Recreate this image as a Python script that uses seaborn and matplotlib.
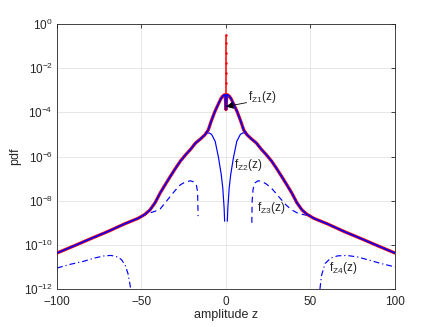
import numpy as np
import matplotlib
matplotlib.use("Agg")
import matplotlib.pyplot as plt
from matplotlib.ticker import FixedLocator, NullLocator, LogFormatterSciNotation
import seaborn as sns

# ---------------- data (log10 of pdf) ----------------
z_total = [-100, -90, -80, -70, -60, -52, -48, -45, -42, -39, -36, -33, -30, -27, -24,
           -21, -18, -15, -12.5, -10.5, -8.5, -6.5, -4.5, -3, -2, -1, -0.5, 0,
           0.5, 1, 2, 3, 4.5, 6.5, 8.5, 10.5, 12.5, 15, 18, 21, 24, 27, 30, 33, 36,
           39, 42, 45, 48, 52, 60, 70, 80, 90, 100]
log_total = [-10.37, -10.05, -9.72, -9.40, -9.05, -8.80, -8.62, -8.42, -8.10, -7.66, -7.28,
             -6.91, -6.55, -6.21, -5.93, -5.68, -5.39, -5.20, -5.02, -4.80, -4.35, -3.95,
             -3.62, -3.38, -3.27, -3.21, -3.21, -3.88,
             -3.21, -3.21, -3.27, -3.38, -3.62, -3.95, -4.35, -4.80, -5.02, -5.20, -5.39,
             -5.68, -5.93, -6.21, -6.55, -6.91, -7.28, -7.66, -8.10, -8.42, -8.62, -8.80,
             -9.05, -9.40, -9.72, -10.05, -10.37]

z_spike = [0, 0, 0, 0, 0, 0, 0]
log_spike = [-3.20, -2.68, -2.23, -1.78, -1.33, -0.87, -0.50]

z_z2_left = [-16, -13.5, -11.5, -10, -8.5, -6.4, -4.4, -2.8, -1.9, -1.1, -0.8]
log_z2_left = [-5.25, -5.08, -4.95, -4.93, -5.00, -5.31, -6.06, -6.82, -7.42, -8.33, -8.93]
z_z2_right = [0.8, 1.1, 1.9, 2.8, 4.4, 6.4, 8.5, 10, 11.5, 13.5, 16]
log_z2_right = [-8.93, -8.33, -7.42, -6.82, -6.06, -5.31, -5.00, -4.93, -4.95, -5.08, -5.25]

z_z3_left = [-50, -46, -42, -39, -36, -33, -30, -27, -24, -21, -19, -17.5, -16.8, -16.5]
log_z3_left = [-8.72, -8.58, -8.48, -8.38, -8.10, -7.81, -7.53, -7.28, -7.15, -7.10, -7.15,
               -7.30, -7.60, -8.70]
z_z3_right = [15.3, 15.5, 16, 17, 19, 21, 24, 27.7, 31, 35.6, 39, 42.5, 47, 50]
log_z3_right = [-9.00, -8.00, -7.50, -7.20, -7.10, -7.12, -7.25, -7.50, -7.80, -8.20, -8.42,
                -8.57, -8.65, -8.72]

z_z4_left = [-100, -92, -84.4, -78, -72, -68, -64, -61.7, -59.5, -58, -57, -56.4]
log_z4_left = [-11.05, -10.88, -10.75, -10.60, -10.50, -10.48, -10.55, -10.68, -10.95,
               -11.30, -11.70, -12.00]
z_z4_right = [55.6, 56.5, 58.6, 62, 66, 71.4, 78, 85, 92, 100]
log_z4_right = [-12.00, -11.40, -10.85, -10.60, -10.50, -10.48, -10.55, -10.70, -10.85, -11.00]

x_ticks = [-100, -50, 0, 50, 100]
y_tick_exps = [0, -2, -4, -6, -8, -10, -12]

# label positions (z, log10 pdf)
labels = [("f$_{\\mathregular{Z1}}$(z)", 13.0, -3.44),
          ("f$_{\\mathregular{Z2}}$(z)", 4.6, -6.53),
          ("f$_{\\mathregular{Z3}}$(z)", 18.2, -8.49),
          ("f$_{\\mathregular{Z4}}$(z)", 61.0, -11.18)]
arrow_tail = (12.2, -3.56)
arrow_head = (0.0, -3.74)

# ---------------- style ----------------
sns.set_theme(style="white")
plt.rcParams["font.family"] = ["Liberation Sans", "DejaVu Sans"]
plt.rcParams["mathtext.fontset"] = "custom"
plt.rcParams["mathtext.rm"] = "Liberation Sans"
plt.rcParams["mathtext.default"] = "regular"

fig = plt.figure(figsize=(4.36, 3.27), dpi=100)
ax = fig.add_axes([0.1307, 0.1162, 0.7752, 0.8104])

def p(v):
    return 10.0 ** np.asarray(v, dtype=float)

common = dict(ax=ax, estimator=None, sort=False, legend=False)

# total (red beneath blue)
sns.lineplot(x=z_total, y=p(log_total), color="#ff0000", lw=2.3, zorder=3, **common)
sns.lineplot(x=z_spike, y=p(log_spike), color="#ff0000", lw=1.1, marker=".",
             markersize=3.5, markeredgewidth=0, zorder=3, **common)
sns.lineplot(x=z_total, y=p(log_total), color="#0000ff", lw=1.2, zorder=4, **common)

# components
for zz, ll in [(z_z2_left, log_z2_left), (z_z2_right, log_z2_right)]:
    sns.lineplot(x=zz, y=p(ll), color="#0000ff", lw=0.85, zorder=2, **common)
for zz, ll in [(z_z3_left, log_z3_left), (z_z3_right, log_z3_right)]:
    sns.lineplot(x=zz, y=p(ll), color="#0000ff", lw=0.85, linestyle=(0, (5, 3.5)),
                 zorder=2, **common)
for zz, ll in [(z_z4_left, log_z4_left), (z_z4_right, log_z4_right)]:
    sns.lineplot(x=zz, y=p(ll), color="#0000ff", lw=0.85,
                 linestyle=(0, (5, 2.5, 1, 2.5)), zorder=2, **common)

ax.set_yscale("log")
ax.set_xlim(-100, 100)
ax.set_ylim(1e-12, 1e0)
ax.xaxis.set_major_locator(FixedLocator(x_ticks))
ax.yaxis.set_major_locator(FixedLocator([10.0 ** e for e in y_tick_exps]))
ax.yaxis.set_minor_locator(NullLocator())
ax.xaxis.set_minor_locator(NullLocator())
ax.yaxis.set_major_formatter(LogFormatterSciNotation())

ax.grid(True, color="#e3e3e3", lw=0.6)
ax.set_axisbelow(True)
for s in ax.spines.values():
    s.set_color("#262626")
    s.set_linewidth(0.6)
    s.set_visible(True)
ax.tick_params(direction="in", top=True, right=True, length=3, width=0.6,
               colors="#262626", labelsize=8.5)
ax.tick_params(axis="x", pad=5)
ax.tick_params(axis="y", pad=3)

ax.set_xlabel("amplitude z", fontsize=9, color="#262626", labelpad=1)
ax.set_ylabel("pdf", fontsize=9, color="#262626", labelpad=2)

for txt, zx, ly in labels:
    ax.text(zx, 10.0 ** ly, txt, fontsize=8.5, color="#262626", ha="left", va="baseline",
            zorder=6)
ax.annotate("", xy=(arrow_head[0], 10.0 ** arrow_head[1]),
            xytext=(arrow_tail[0], 10.0 ** arrow_tail[1]),
            arrowprops=dict(arrowstyle="-|>", color="black", lw=0.6, mutation_scale=11,
                            shrinkA=0, shrinkB=0), zorder=7)

fig.savefig("out.png", dpi=100)
